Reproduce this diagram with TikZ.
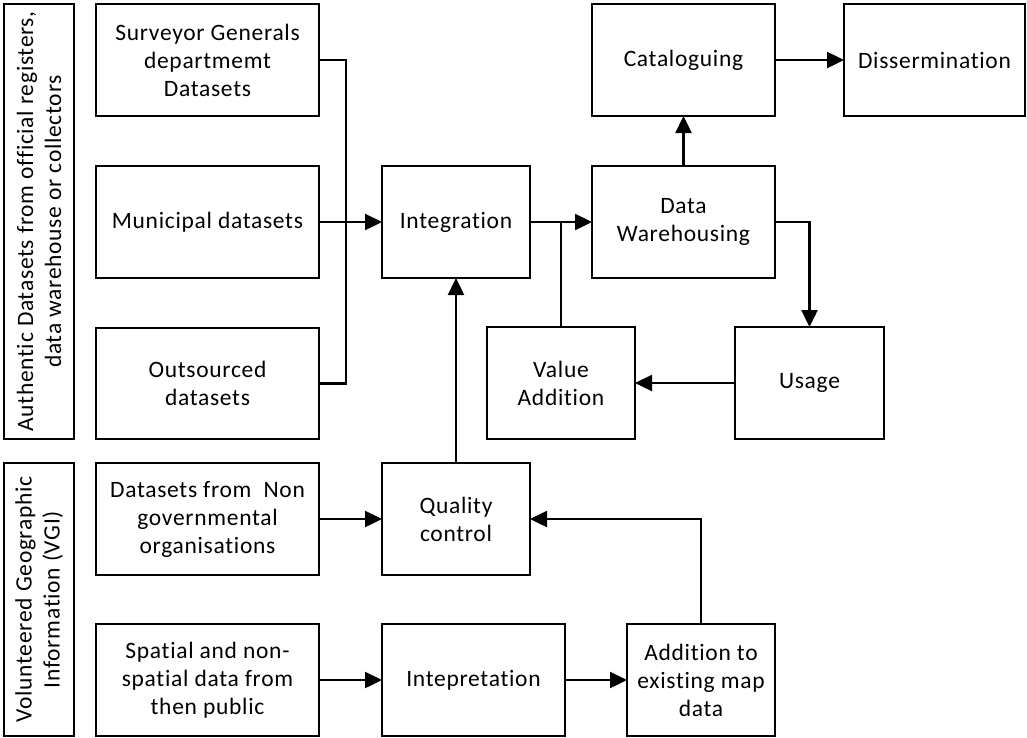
\documentclass[tikz,border=0pt]{standalone}
\usepackage{fontspec}
\setmainfont{Carlito}[LetterSpace=3,Ligatures={NoCommon}]
\usetikzlibrary{arrows.meta}
\begin{document}
\begin{tikzpicture}[x=1pt,y=-1pt,
  box/.style={draw=black, line width=1.8pt, rectangle, inner sep=0pt, outer sep=0pt,
    align=center, font=\fontsize{23.5}{28}\selectfont},
  side/.style={box, rotate=90},
  conn/.style={draw=black, line width=2.4pt},
  arr/.style={conn, -{Triangle[length=17pt,width=16pt]}}]
\useasboundingbox (0,0) rectangle (1027,737);
% left group boxes
\node[side, minimum width=435pt, minimum height=70pt] (auth) at (39,221.5)
  {Authentic Datasets from official registers,\\data warehouse or collectors};
\node[side, minimum width=273pt, minimum height=70pt] (vgi) at (39,599.5)
  {Volunteered Geographic\\Information (VGI)};
% source boxes
\node[box, minimum width=223pt, minimum height=112pt] (surv) at (207.5,60)
  {Surveyor Generals\\departmemt\\Datasets};
\node[box, minimum width=223pt, minimum height=112pt] (muni) at (207.5,222)
  {Municipal datasets};
\node[box, minimum width=223pt, minimum height=111pt] (outs) at (207.5,383.5)
  {Outsourced\\datasets};
\node[box, minimum width=223pt, minimum height=112pt] (ngo) at (207.5,519)
  {Datasets from\ \ Non\\governmental\\organisations};
\node[box, minimum width=223pt, minimum height=112pt] (spat) at (207.5,680)
  {Spatial and non-\\spatial data from\\then public};
% process boxes
\node[box, minimum width=148pt, minimum height=112pt] (integ) at (456,222) {Integration};
\node[box, minimum width=148pt, minimum height=112pt] (qc) at (456,519) {Quality\\control};
\node[box, minimum width=183pt, minimum height=112pt] (interp) at (473.5,680) {Intepretation};
\node[box, minimum width=148pt, minimum height=112pt] (add) at (701,680)
  {Addition to\\existing map\\data};
\node[box, minimum width=183pt, minimum height=112pt] (dw) at (683.5,222) {Data\\Warehousing};
\node[box, minimum width=183pt, minimum height=112pt] (cat) at (683.5,60) {Cataloguing};
\node[box, minimum width=181pt, minimum height=112pt] (diss) at (934.5,60) {Dissermination};
\node[box, minimum width=148pt, minimum height=112pt] (va) at (561,383) {Value\\Addition};
\node[box, minimum width=149pt, minimum height=112pt] (usage) at (809.5,383) {Usage};
% connectors
\coordinate (j) at (346,0);
\draw[conn] (surv.east) -- (surv.east -| j) |- (outs.east);
\draw[arr] (muni.east) -- (integ.west);
\draw[arr] (integ.east) -- (dw.west);
\draw[conn] (va.north) -- (va.north |- integ.east);
\draw[arr] (dw.north) -- (cat.south);
\draw[arr] (cat.east) -- (diss.west);
\draw[arr] (dw.east) -| (usage.north);
\draw[arr] (usage.west) -- (va.east);
\draw[arr] (qc.north) -- (integ.south);
\draw[arr] (ngo.east) -- (qc.west);
\draw[arr] (spat.east) -- (interp.west);
\draw[arr] (interp.east) -- (add.west);
\draw[arr] (add.north) |- (qc.east);
\end{tikzpicture}
\end{document}
